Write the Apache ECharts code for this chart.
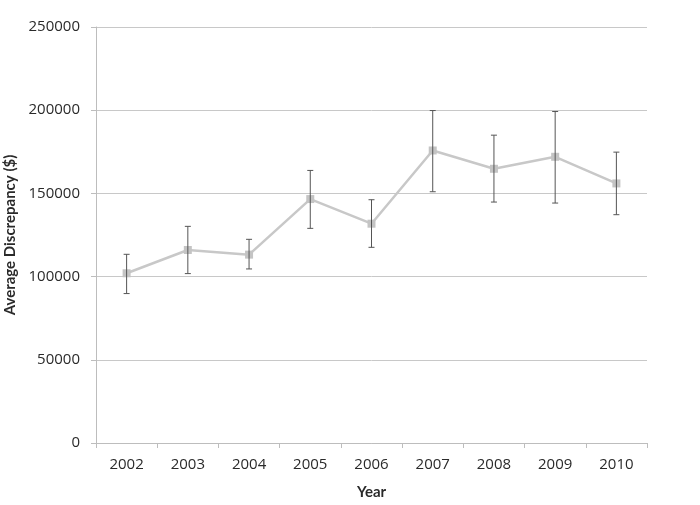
<!DOCTYPE html>
<html><head><meta charset="utf-8">
<script src="https://cdn.jsdelivr.net/npm/echarts@6/dist/echarts.min.js"></script>
<style>html,body{margin:0;padding:0;background:#fff;}#c{width:700px;height:505px;}</style>
</head><body><div id="c"></div>
<script>
var years = ['2002','2003','2004','2005','2006','2007','2008','2009','2010'];
var meanValues = [102000, 116000, 113200, 146600, 131800, 175800, 164800, 172000, 156000];
var errLow = [89800, 101800, 104600, 129000, 117600, 151000, 144800, 144200, 137200];
var errHigh = [113400, 130200, 122400, 163800, 146200, 199800, 185000, 199200, 174800];
var yTicks = [0, 50000, 100000, 150000, 200000, 250000];

var errData = years.map(function(y, i){ return [i, errLow[i], errHigh[i]]; });
var font = '"Open Sans", "Noto Sans", sans-serif';
var titleFont = 'Lato, "Open Sans", sans-serif';
var chart = echarts.init(document.getElementById('c'), null, {renderer:'canvas'});
chart.setOption({
  animation: false,
  backgroundColor: '#fff',
  grid: {left: 96, right: 53, top: 27, bottom: 62, containLabel: false, outerBoundsMode: 'none'},
  xAxis: {
    type: 'category', data: years, boundaryGap: true,
    name: 'Year', nameLocation: 'middle', nameGap: 42,
    nameTextStyle: {fontFamily: titleFont, fontSize: 15, fontWeight: 'bold', color: '#2a2a2a'},
    axisLine: {lineStyle: {color: '#bdbdbd', width: 1}},
    axisTick: {show: true, length: 5, lineStyle: {color: '#bdbdbd'}},
    axisLabel: {fontFamily: font, fontSize: 15, color: '#2a2a2a', margin: 14}
  },
  yAxis: {
    type: 'value', min: yTicks[0], max: yTicks[yTicks.length-1], interval: 50000,
    name: 'Average Discrepancy ($)', nameLocation: 'middle', nameGap: 75,
    nameTextStyle: {fontFamily: titleFont, fontSize: 15, fontWeight: 'bold', color: '#2a2a2a'},
    axisLine: {show: true, lineStyle: {color: '#bdbdbd', width: 1}},
    axisTick: {show: true, length: 5, lineStyle: {color: '#bdbdbd'}},
    axisLabel: {fontFamily: font, fontSize: 15, color: '#2a2a2a', margin: 16,
      formatter: function(v){ return String(v); }},
    splitLine: {lineStyle: {color: '#c8c8c8', width: 1}}
  },
  series: [
    {
      type: 'line', data: meanValues, symbol: 'rect', symbolSize: 8,
      lineStyle: {color: '#c8c8c8', width: 2.5},
      itemStyle: {color: '#c4c4c4'}, z: 3
    },
    {
      type: 'custom', data: errData, z: 4,
      renderItem: function(params, api){
        var x = api.value(0);
        var lo = api.coord([x, api.value(1)]);
        var hi = api.coord([x, api.value(2)]);
        var hw = 3;
        var st = {stroke: '#555', lineWidth: 1};
        return {type: 'group', children: [
          {type: 'line', shape: {x1: lo[0], y1: lo[1], x2: hi[0], y2: hi[1]}, style: st},
          {type: 'line', shape: {x1: lo[0]-hw, y1: lo[1], x2: lo[0]+hw, y2: lo[1]}, style: st},
          {type: 'line', shape: {x1: hi[0]-hw, y1: hi[1], x2: hi[0]+hw, y2: hi[1]}, style: st}
        ]};
      }
    }
  ]
});
</script></body></html>
